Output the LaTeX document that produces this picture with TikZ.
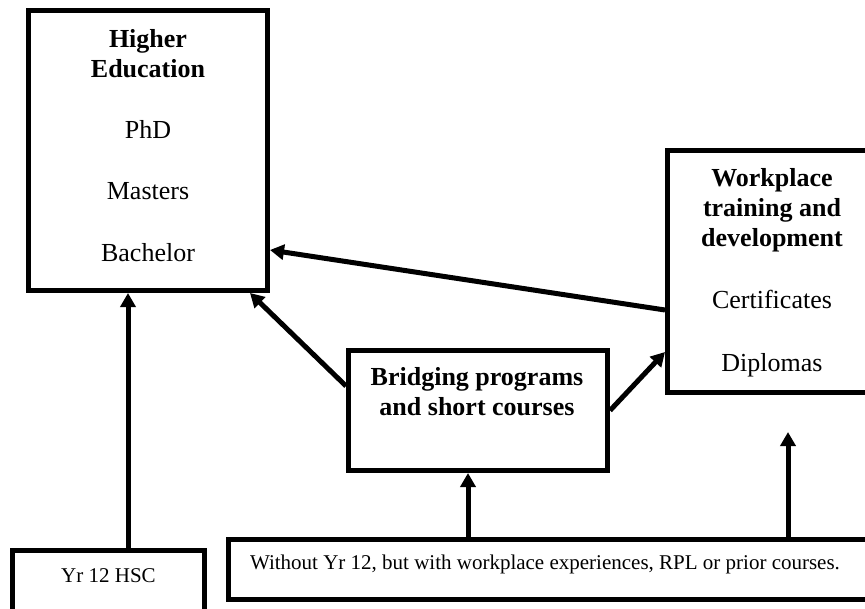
\documentclass[tikz,border=0pt]{standalone}
\usepackage{fontspec}
\setmainfont{Liberation Serif}
\usetikzlibrary{arrows.meta}
\begin{document}
\begin{tikzpicture}[x=1pt,y=-1pt,
  box/.style={draw,line width=5pt,inner sep=0pt,fill=white},
  big/.style={anchor=base,inner sep=0pt,font=\fontsize{26}{30}\selectfont},
  bigb/.style={big,font=\fontsize{26}{30}\selectfont\bfseries},
  small/.style={anchor=base,inner sep=0pt,font=\fontsize{21}{25}\selectfont},
  arr/.style={line width=5pt,-{Triangle[length=14pt,width=15pt]}}]
\fill[white] (0,0) rectangle (865,608);
\useasboundingbox (0,0) rectangle (865,608);
\clip (0,0) rectangle (865,608);
% boxes
\node[box,minimum width=239pt,minimum height=280pt] (he) at (148,150.5) {};
\node[box,minimum width=212.5pt,minimum height=242pt] (wp) at (773.75,271.5) {};
\node[box,minimum width=259pt,minimum height=120pt] (br) at (478,410.5) {};
\node[box,minimum width=651.5pt,minimum height=60pt] (bot) at (554.25,569.5) {};
\node[box,minimum width=192pt,minimum height=79.5pt] (yr) at (108.5,590.25) {};
% texts
\node[bigb] (he1) at (148,47) {Higher};
\node[bigb] (he2) at (148,77) {Education};
\node[big] (he3) at (148,138) {PhD};
\node[big] (he4) at (148,199) {Masters};
\node[big] (he5) at (148,261) {Bachelor};
\node[bigb] (wp1) at (772,186) {Workplace};
\node[bigb] (wp2) at (772,216) {training and};
\node[bigb] (wp3) at (772,246) {development};
\node[big] (wp4) at (772,308) {Certificates};
\node[big] (wp5) at (772,371) {Diplomas};
\node[bigb] (br1) at (477,385) {Bridging programs};
\node[bigb] (br2) at (477,415) {and short courses};
\node[small] (yr1) at (108.5,582) {Yr 12 HSC};
\node[small] (bot1) at (545,569) {Without Yr 12, but with workplace experiences, RPL or prior courses.};
% connectors
\coordinate (wpin) at (788,432);
\draw[arr] ([xshift=19.5pt]yr.north) -- ([xshift=-20pt]he.south);
\draw[arr] ([yshift=24.5pt]br.west) -- ([xshift=102pt]he.south);
\draw[arr] ([yshift=-38.5pt]wp.west) -- ([yshift=-99.5pt]he.east);
\draw[arr] (br.east) -- ([yshift=-80.5pt]wp.west);
\draw[arr] ([xshift=-86.25pt]bot.north) -- ([xshift=-10pt]br.south);
\draw[arr] ([xshift=233.75pt]bot.north) -- (wpin);
\end{tikzpicture}
\end{document}
